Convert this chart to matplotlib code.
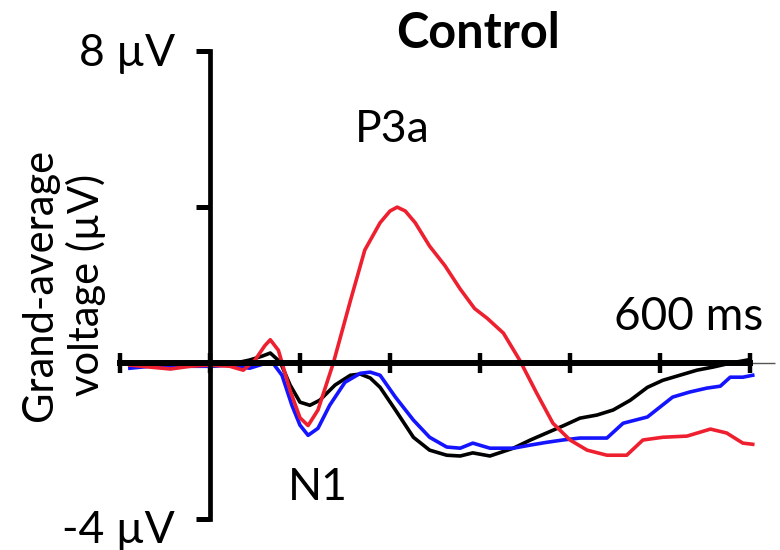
import matplotlib
matplotlib.use("Agg")
import matplotlib.pyplot as plt

# grand-average ERP, Control group (time in ms, voltage in uV)
t_red = [-89, -67, -44, -22, 0, 22, 37, 50, 61, 67, 76, 89, 100, 109, 120, 137,
         156, 172, 189, 200, 208, 217, 228, 244, 261, 278, 294, 308, 326, 344,
         363, 381, 400, 419, 441, 463, 481, 503, 530, 556, 574, 592, 603]
v_red = [-0.05, -0.1, -0.15, -0.08, -0.05, -0.08, -0.18, 0.08, 0.45, 0.6, 0.33,
         -0.7, -1.4, -1.6, -1.2, 0.0, 1.6, 2.9, 3.6, 3.9, 4.0, 3.9, 3.6, 3.0,
         2.5, 1.9, 1.4, 1.15, 0.77, 0.08, -0.77, -1.54, -1.97, -2.23, -2.36,
         -2.36, -1.97, -1.9, -1.87, -1.69, -1.79, -2.05, -2.08]

t_black = [-89, -67, -44, -22, 0, 22, 44, 58, 67, 78, 89, 100, 111, 122, 139,
           156, 167, 178, 189, 206, 226, 244, 263, 278, 292, 311, 337, 356,
           374, 394, 411, 430, 448, 467, 486, 503, 522, 541, 559, 578, 597]
v_black = [-0.03, -0.08, -0.08, -0.05, -0.08, -0.03, 0.08, 0.18, 0.26, 0.03,
           -0.56, -1.0, -1.08, -0.95, -0.56, -0.31, -0.28, -0.38, -0.62, -1.2,
           -1.9, -2.23, -2.36, -2.38, -2.3, -2.38, -2.18, -1.97, -1.79, -1.59,
           -1.41, -1.33, -1.2, -0.95, -0.62, -0.44, -0.31, -0.18, -0.1, 0.0, 0.08]

t_blue = [-89, -67, -44, -22, 0, 22, 44, 58, 69, 80, 91, 100, 109, 120, 133,
          150, 167, 178, 189, 206, 226, 244, 263, 278, 292, 311, 337, 356, 374,
          392, 411, 441, 459, 486, 514, 533, 552, 567, 578, 592, 603]
v_blue = [-0.13, -0.08, -0.08, -0.08, -0.08, -0.05, -0.13, -0.03, 0.03, -0.31,
          -1.08, -1.59, -1.85, -1.67, -1.08, -0.49, -0.26, -0.23, -0.31, -0.87,
          -1.46, -1.9, -2.15, -2.18, -2.05, -2.18, -2.18, -2.1, -2.03, -1.97,
          -1.92, -1.92, -1.54, -1.38, -0.87, -0.74, -0.64, -0.59, -0.36, -0.36,
          -0.31]

x_ticks = [-100, 0, 100, 200, 300, 400, 500, 600]
y_ticks = [-4, 4, 8]

plt.rcParams['font.family'] = ['Lato', 'DejaVu Sans']

fig = plt.figure(figsize=(7.8, 5.5), dpi=100)
ax = fig.add_axes([0, 0, 1, 1])
ax.set_xlim(-233.3, 633.3)
ax.set_ylim(-4.79, 9.31)

ax.hlines(0, -100, 628, color='#555555', lw=1.0, zorder=1)

ax.plot(t_black, v_black, color='black', lw=2.6, solid_joinstyle='round')
ax.plot(t_blue, v_blue, color='#1414ff', lw=2.6, solid_joinstyle='round')
ax.plot(t_red, v_red, color='#ee2030', lw=2.6, solid_joinstyle='round')

for s in ['top', 'right']:
    ax.spines[s].set_visible(False)
ax.spines['left'].set_position(('data', 0))
ax.spines['left'].set_bounds(-4, 8)
ax.spines['left'].set_linewidth(3.4)
ax.spines['bottom'].set_position(('data', 0))
ax.spines['bottom'].set_bounds(-100, 600)
ax.spines['bottom'].set_linewidth(4.3)
ax.patch.set_visible(False)

ax.set_xticks(x_ticks)
ax.set_yticks(y_ticks)
ax.tick_params(axis='x', direction='inout', length=14, width=3.2,
               labelbottom=False)
ax.tick_params(axis='y', direction='out', length=10, width=3.6,
               labelleft=False)

ax.text(-39, 7.95, '8 µV', ha='right', va='center', fontsize=32)
ax.text(-39, -4.28, '-4 µV', ha='right', va='center', fontsize=32)
ax.text(298, 8.46, 'Control', ha='center', va='center', fontsize=35,
        fontweight='bold')
ax.text(202, 6.0, 'P3a', ha='center', va='center', fontsize=32)
ax.text(120, -3.18, 'N1', ha='center', va='center', fontsize=32)
ax.text(532, 1.18, '600 ms', ha='center', va='center', fontsize=33)
ax.text(-163, 2.0, 'Grand-average\nvoltage (µV)', ha='center', va='center',
        rotation=90, fontsize=30, linespacing=1.2)

fig.savefig('out.png', dpi=100)
